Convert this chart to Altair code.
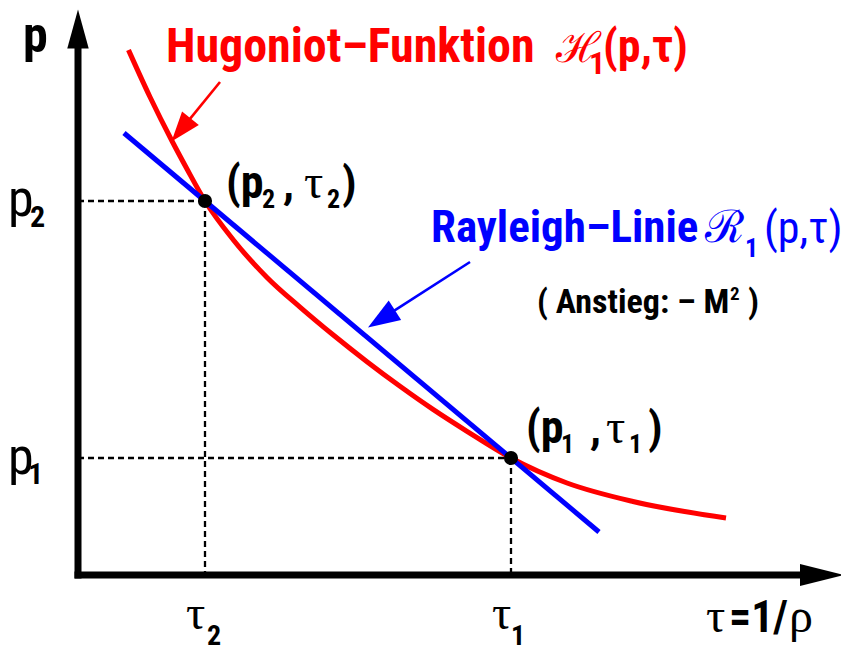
import math
import altair as alt
import pandas as pd

# ---------------- data (schematic units) ----------------
# Hugoniot curve H1(p, tau)
tau_h = [0.505, 0.72, 0.94, 1.09, 1.27, 1.55, 1.89, 2.22, 2.55, 2.89, 3.22, 3.55, 3.89, 4.33, 4.89, 5.55, 6.48]
p_h = [5.25, 4.78, 4.34, 4.06, 3.74, 3.355, 2.976, 2.679, 2.402, 2.133, 1.887, 1.656, 1.437, 1.17, 0.92, 0.735, 0.57]
# Rayleigh line R1(p, tau)
tau_r = [0.46, 5.21]
p_r = [4.42, 0.43]
# states 2 and 1
state_names = ["2", "1"]
tau_s = [1.27, 4.33]
p_s = [3.74, 1.17]

# ---------------- layout ----------------
W, H = 833, 638
X0, Y0 = 78, 575  # page pixel of the origin
XS = alt.Scale(domain=[(8 - X0) / 100, (8 + W - X0) / 100])
YS = alt.Scale(domain=[(Y0 - 8 - H) / 100, (Y0 - 8) / 100])


def U(px, py):
    """page pixel -> chart units (annotation placement only)"""
    return (px - X0) / 100.0, (Y0 - py) / 100.0


def enc():
    return dict(x=alt.X("x:Q", scale=XS, axis=None), y=alt.Y("y:Q", scale=YS, axis=None))


layers = []

# dashed guide lines
guides = []
for n, t, p in zip(state_names, tau_s, p_s):
    guides.append({"x": 0, "x2": t, "y": p, "y2": p})
    guides.append({"x": t, "x2": t, "y": p, "y2": 0})
layers.append(
    alt.Chart(pd.DataFrame(guides)).mark_rule(color="black", strokeWidth=2.3, strokeDash=[6, 4]).encode(
        x2="x2:Q", y2="y2:Q", **enc())
)

# axes with arrow heads
ax = pd.DataFrame([{"x": 0, "x2": 7.25, "y": 0, "y2": 0}, {"x": 0, "x2": 0, "y": 0, "y2": 5.3}])
layers.append(
    alt.Chart(ax).mark_rule(color="black", strokeWidth=7, strokeCap="square").encode(x2="x2:Q", y2="y2:Q", **enc())
)
hx, hy = U(822, 575)
layers.append(
    alt.Chart(pd.DataFrame({"x": [hx], "y": [hy]})).mark_point(
        shape="M1,0L-1,-0.5L-1,0.5Z", size=44 * 44, filled=True, color="black", opacity=1, strokeWidth=0
    ).encode(**enc())
)
vx, vy = U(78, 29)
layers.append(
    alt.Chart(pd.DataFrame({"x": [vx], "y": [vy]})).mark_point(
        shape="M0,-1L-0.55,1L0.55,1Z", size=39 * 39, filled=True, color="black", opacity=1, strokeWidth=0
    ).encode(**enc())
)

# Hugoniot curve
layers.append(
    alt.Chart(pd.DataFrame({"x": tau_h, "y": p_h})).mark_line(
        color="#ff0000", strokeWidth=5, interpolate="monotone"
    ).encode(**enc())
)
# Rayleigh line
layers.append(
    alt.Chart(pd.DataFrame({"x": tau_r, "y": p_r})).mark_line(color="#0000ff", strokeWidth=5).encode(**enc())
)
# state points
layers.append(
    alt.Chart(pd.DataFrame({"x": tau_s, "y": p_s})).mark_circle(color="black", size=200, opacity=1).encode(**enc())
)


# annotation arrows
def arrow(tail, tip, color, head_len):
    dx, dy = tip[0] - tail[0], tip[1] - tail[1]
    L = math.hypot(dx, dy)
    ux, uy = dx / L, dy / L
    angle = math.degrees(math.atan2(uy, ux)) % 360
    base = (tip[0] - ux * (head_len - 4), tip[1] - uy * (head_len - 4))
    cen = (tip[0] - ux * head_len / 2, tip[1] - uy * head_len / 2)
    a, b, c = U(*tail), U(*base), U(*cen)
    return [
        alt.Chart(pd.DataFrame({"x": [a[0]], "y": [a[1]], "x2": [b[0]], "y2": [b[1]]})).mark_rule(
            color=color, strokeWidth=2.6
        ).encode(x2="x2:Q", y2="y2:Q", **enc()),
        alt.Chart(pd.DataFrame({"x": [c[0]], "y": [c[1]]})).mark_point(
            shape="M1,0L-1,-0.72L-1,0.72Z", size=head_len * head_len, filled=True, color=color,
            opacity=1, strokeWidth=0, angle=angle
        ).encode(**enc()),
    ]


layers += arrow((220, 82), (171.5, 141.5), "#ff0000", 30)
layers += arrow((470, 262), (368, 327.5), "#0000ff", 32)

# ---------------- text ----------------
SANS = "Roboto Condensed, Liberation Sans, sans-serif"
SERIF = "Liberation Serif, serif"


def txt(s, px, py, size, bold=False, color="black", font=SANS):
    x, y = U(px, py)
    return alt.Chart(pd.DataFrame({"x": [x], "y": [y]})).mark_text(
        text=s, fontSize=size, font=font, color=color, align="left", baseline="alphabetic",
        fontWeight="bold" if bold else "normal"
    ).encode(**enc())


# axis labels
layers.append(txt("p", 23, 52, 50, bold=True))
layers.append(txt("p", 8, 216, 52))
layers.append(txt("2", 30, 227, 30, bold=True))
layers.append(txt("p", 8, 474, 52))
layers.append(txt("1", 28, 484, 30, bold=True))
layers.append(txt("τ", 186, 629, 48, font=SERIF))
layers.append(txt("2", 207, 645, 28, bold=True))
layers.append(txt("τ", 492, 629, 48, font=SERIF))
layers.append(txt("1", 511, 645, 28, bold=True))
layers.append(txt("τ", 706, 632, 48, font=SERIF))
layers.append(txt("=1/", 729, 632, 44, bold=True))
layers.append(txt("ρ", 789, 632, 48, font=SERIF))

# state labels: (p_n , tau_n)
for n, by, xs in [("2", 198, [226, 262, 283, 304, 327, 342]),
                  ("1", 443, [526, 561, 590, 606, 629, 648])]:
    layers.append(txt("(p", xs[0], by, 46, bold=True))
    layers.append(txt(n, xs[1], by + 10, 26, bold=True))
    layers.append(txt(",", xs[2], by, 45, bold=True))
    layers.append(txt("τ", xs[3], by, 48, font=SERIF))
    layers.append(txt(n, xs[4], by + 10, 26, bold=True))
    layers.append(txt(")", xs[5], by, 45, bold=True))

# Hugoniot label
layers.append(txt("Hugoniot–Funktion", 166, 62, 48, bold=True, color="#ff0000"))
layers.append(txt("ℋ", 556, 62, 42, color="#ff0000", font=SERIF))
layers.append(txt("1", 589, 74, 32, bold=True, color="#ff0000"))
layers.append(txt("(p,τ)", 603, 62, 46, bold=True, color="#ff0000"))

# Rayleigh label
layers.append(txt("Rayleigh–Linie", 431, 242, 45, bold=True, color="#0000ff"))
layers.append(txt("ℛ", 705, 242, 45, color="#0000ff", font=SERIF))
layers.append(txt("1", 745, 257, 26, bold=True, color="#0000ff"))
layers.append(txt("(p,τ)", 764, 243, 44, color="#0000ff"))

# slope note
layers.append(txt("( Anstieg: – M", 537, 313, 34, bold=True))
layers.append(txt("2", 730, 300, 19, bold=True))
layers.append(txt(")", 748, 313, 34, bold=True))

chart = alt.layer(*layers).properties(
    width=W, height=H, padding=0, autosize=alt.AutoSizeParams(type="none"), background="white"
).configure_view(stroke=None)

chart.save("out.html", embed_options={"renderer": "svg", "actions": False})
